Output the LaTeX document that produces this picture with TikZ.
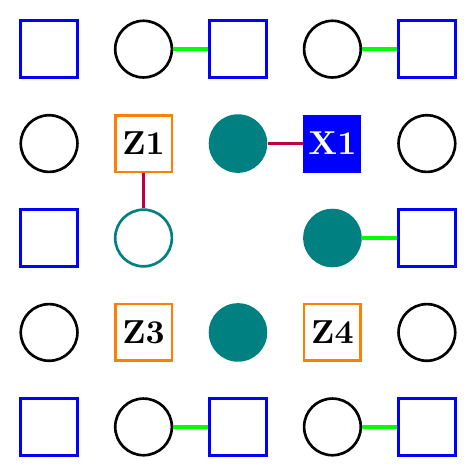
\documentclass[tikz,border=0pt]{standalone}
\usepackage{xcolor}
\usepackage{tikz}
\usetikzlibrary{positioning, arrows.meta, calc}

\begin{document}
\begin{tikzpicture}[every node/.style={font=\bfseries},
        dq/.style={draw=blue, thick, minimum size=0.6cm, inner sep=0pt},
        mq/.style={draw, thick, circle, minimum size=0.6cm, inner sep=0pt},
        zst/.style={draw=orange, thick, fill=white, minimum size=0.6cm, inner sep=0pt},
        xst/.style={draw=blue, fill=blue, text=white, minimum size=0.6cm, inner sep=0pt},
        act/.style={circle, fill=teal, minimum size=0.62cm, inner sep=0pt},
        gl/.style={green, line width=1pt},
        cl/.style={purple, line width=1pt}]
      \useasboundingbox (-0.52,0.52) rectangle (4.52,-4.52);

      % outer rows: data and measure qubits alternating
      \foreach \r in {0,4} {
        \node[dq] (d\r0) at (0,-\r) {};
        \node[mq] (m\r1) at (1,-\r) {};
        \node[dq] (d\r2) at (2,-\r) {};
        \node[mq] (m\r3) at (3,-\r) {};
        \node[dq] (d\r4) at (4,-\r) {};
        \draw[gl] (m\r1) -- (d\r2);
        \draw[gl] (m\r3) -- (d\r4);
      }

      % row 1
      \node[mq] (m10) at (0,-1) {};
      \node[zst] (z1) at (1,-1) {Z1};
      \node[act] (a12) at (2,-1) {};
      \node[xst] (x1) at (3,-1) {X1};
      \node[mq] (m14) at (4,-1) {};

      % row 2
      \node[dq] (d20) at (0,-2) {};
      \node[mq, draw=teal] (m21) at (1,-2) {};
      \node[act] (a23) at (3,-2) {};
      \node[dq] (d24) at (4,-2) {};

      % row 3
      \node[mq] (m30) at (0,-3) {};
      \node[zst] (z3) at (1,-3) {Z3};
      \node[act] (a32) at (2,-3) {};
      \node[zst] (z4) at (3,-3) {Z4};
      \node[mq] (m34) at (4,-3) {};

      \draw[cl] (a12) -- (x1);
      \draw[cl] (z1) -- (m21);
      \draw[gl] (a23) -- (d24);
    \end{tikzpicture}
\end{document}
